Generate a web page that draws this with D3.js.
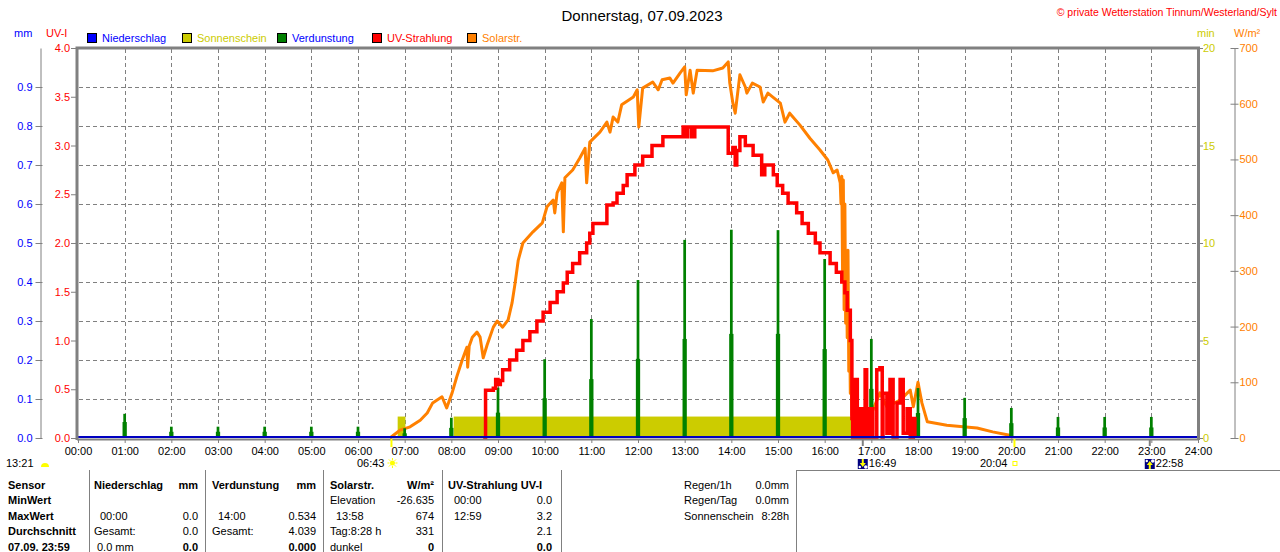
<!DOCTYPE html>
<html>
<head>
<meta charset="utf-8">
<script src="https://cdn.jsdelivr.net/npm/d3@7"></script>
<style>
body { margin: 0; background: #fff; }
svg { display: block; font-family: "Liberation Sans", Arial, sans-serif; }
</style>
</head>
<body>
<div id="chart"></div>
<script>
// ---- data ----
const hours = d3.range(0, 25);
const evapHours = d3.range(1, 24);
const evapPeak = [0.062, 0.029, 0.029, 0.029, 0.029, 0.029, 0.025, 0.052, 0.129, 0.202, 0.305, 0.405,
                  0.508, 0.534, 0.533, 0.459, 0.254, 0.128, 0.103, 0.077, 0.054, 0.054, 0.054];
const evapShoulder = [0.041, 0.016, 0.016, 0.016, 0.016, 0.016, 0.012, 0.026, 0.065, 0.102, 0.151, 0.203,
                      0.254, 0.267, 0.267, 0.228, 0.126, 0.064, 0.051, 0.038, 0.027, 0.027, 0.027];

const sunStart = ["06:51", "08:03"];
const sunEnd = ["07:01", "16:39"];
const sunMinutes = [1.1, 1.1];

const uvTimes = ["08:41", "08:44", "08:54", "08:57", "09:00", "09:03", "09:06", "09:15", "09:24", "09:32",
  "09:41", "09:50", "09:58", "10:07", "10:16", "10:24", "10:29", "10:36", "10:45", "10:54", "10:58", "11:02",
  "11:20", "11:28", "11:33", "11:41", "11:46", "11:56", "12:06", "12:18", "12:32", "12:58", "13:00", "13:04",
  "13:09", "13:13", "13:52", "13:56", "14:02", "14:05", "14:07", "14:11", "14:18", "14:28", "14:39", "14:43",
  "14:54", "14:59", "15:06", "15:13", "15:24", "15:31", "15:39", "15:48", "15:54", "16:07", "16:15", "16:22",
  "16:26", "16:29", "16:33", "16:35", "16:36", "16:39", "16:42", "16:45", "16:49", "16:52", "16:54", "16:58",
  "17:02", "17:07", "17:11", "17:14", "17:15", "17:20", "17:24", "17:28", "17:33", "17:37", "17:41", "17:46",
  "17:50", "17:54", "17:56"];
const uvValues = [0, 0.49, 0.51, 0.6, 0.55, 0.59, 0.7, 0.8, 0.9, 1.0,
  1.09, 1.2, 1.29, 1.39, 1.5, 1.59, 1.7, 1.79, 1.9, 2.0, 2.1, 2.2,
  2.39, 2.41, 2.51, 2.59, 2.7, 2.8, 2.89, 3.0, 3.09, 3.19, 3.09, 3.19,
  3.09, 3.19, 3.19, 2.92, 2.98, 2.8, 2.95, 3.09, 3.0, 2.9, 2.7, 2.8,
  2.7, 2.59, 2.51, 2.41, 2.31, 2.2, 2.1, 2.0, 1.9, 1.79, 1.7, 1.6,
  1.49, 1.31, 1.0, 0.2, 0, 0.6, 0, 0.3, 0, 0.7, 0, 0.3,
  0, 0.7, 0.72, 0, 0.46, 0.05, 0.6, 0, 0.36, 0.6, 0.05, 0.3,
  0, 0.2, 0];

const solarTimes = ["06:41", "06:54", "07:07", "07:20", "07:29", "07:36", "07:48", "07:54", "08:01", "08:07",
  "08:14", "08:20", "08:21", "08:23", "08:27", "08:33", "08:37", "08:41", "08:46", "08:54", "08:59", "09:06",
  "09:13", "09:18", "09:22", "09:26", "09:32", "09:45", "09:57", "10:03", "10:11", "10:13", "10:16", "10:22",
  "10:24", "10:26", "10:36", "10:45", "10:52", "10:54", "10:58", "11:11", "11:20", "11:24", "11:28", "11:34",
  "11:39", "11:54", "11:59", "12:01", "12:06", "12:19", "12:26", "12:31", "12:41", "12:45", "12:54", "13:00",
  "13:02", "13:07", "13:11", "13:16", "13:36", "13:49", "13:56", "13:58", "14:02", "14:05", "14:11", "14:18",
  "14:20", "14:27", "14:37", "14:41", "14:47", "15:03", "15:09", "15:15", "15:28", "15:41", "15:54", "16:04",
  "16:11", "16:16", "16:20", "16:21", "16:22", "16:23", "16:24", "16:25", "16:26", "16:27", "16:28", "16:29",
  "16:30", "16:31", "16:32", "16:33", "16:34", "16:35", "16:45", "17:02", "17:11", "17:20", "17:37", "17:50",
  "17:54", "18:00", "18:05", "18:12", "18:37", "18:58", "19:16", "19:36", "19:58", "20:02"];
const solarValues = [0, 14, 20, 32, 45, 63, 74, 54, 81, 110,
  140, 163, 127, 165, 181, 190, 181, 144, 167, 199, 210, 199,
  212, 242, 278, 319, 350, 370, 386, 415, 427, 404, 440, 458,
  370, 467, 481, 502, 520, 458, 531, 549, 567, 549, 576, 567,
  598, 612, 625, 558, 628, 639, 625, 643, 646, 637, 655, 666,
  616, 660, 619, 660, 659, 664, 675, 637, 601, 583, 652, 630,
  619, 637, 630, 603, 619, 601, 567, 583, 562, 538, 517, 499,
  476, 481, 458, 420, 470, 300, 463, 230, 420, 206, 330, 180,
  337, 120, 217, 80, 120, 41, 45, 50, 81, 56, 68, 86,
  56, 100, 63, 29, 23, 20, 18, 11, 5, 0];

const legendNames = ["Niederschlag", "Sonnenschein", "Verdunstung", "UV-Strahlung", "Solarstr."];
const legendColors = ["#0000ff", "#cccc00", "#008000", "#ff0000", "#ff8000"];
const legendTextColors = ["#0000ff", "#cccc00", "#0000ff", "#ff0000", "#ff8000"];

const sunriseTime = "06:43", sunsetTime = "20:04";
const moonsetTime = "16:49", moonriseTime = "22:58";
const moonLabel = "13:21";

const rowLabels = ["Sensor", "MinWert", "MaxWert", "Durchschnitt", "07.09. 23:59"];
const tableLeft = [
  ["Niederschlag", "", "00:00", "Gesamt:", "0.0 mm"],
  ["Verdunstung", "", "14:00", "Gesamt:", ""],
  ["Solarstr.", "Elevation", "13:58", "Tag:8:28 h", "dunkel"],
  ["UV-Strahlung UV-I", "00:00", "12:59", "", ""]
];
const tableRight = [
  ["mm", "", "0.0", "0.0", "0.0"],
  ["mm", "", "0.534", "4.039", "0.000"],
  ["W/m²", "-26.635", "674", "331", "0"],
  ["", "0.0", "3.2", "2.1", "0.0"]
];
const summaryLabels = ["Regen/1h", "Regen/Tag", "Sonnenschein"];
const summaryValues = ["0.0mm", "0.0mm", "8:28h"];

// ---- helpers ----
const W = 1280, H = 552;
const toMin = s => { const [h, m] = s.split(":").map(Number); return h * 60 + m; };
const pad = n => String(n).padStart(2, "0");
const GRAY = "#808080";

const x = d3.scaleLinear().domain([0, 1440]).range([78, 1198]);
const yMm = d3.scaleLinear().domain([0, 1]).range([438, 48]);
const yUv = d3.scaleLinear().domain([0, 4]).range([438, 48]);
const yMin = d3.scaleLinear().domain([0, 20]).range([438, 48]);
const yW = d3.scaleLinear().domain([0, 700]).range([438, 48]);

const svg = d3.select("#chart").append("svg")
    .attr("width", W)
    .attr("height", H)
    .attr("font-size", 11);

// header
svg.append("text")
    .attr("x", 642).attr("y", 21)
    .attr("text-anchor", "middle")
    .attr("font-size", 15)
    .text("Donnerstag, 07.09.2023");

svg.append("text")
    .attr("x", 1277).attr("y", 16)
    .attr("text-anchor", "end")
    .attr("font-size", 10.5)
    .attr("fill", "#ff0000")
    .text("© private Wetterstation Tinnum/Westerland/Sylt");

svg.append("text").attr("x", 14).attr("y", 37).attr("fill", "#0000ff").text("mm");
svg.append("text").attr("x", 46).attr("y", 37).attr("fill", "#ff0000").text("UV-I");
svg.append("text").attr("x", 1197).attr("y", 37).attr("fill", "#cccc00").text("min");
svg.append("text").attr("x", 1234).attr("y", 37).attr("fill", "#ff8000").text("W/m²");

// legend
const legendX = [87, 182, 277, 372, 467];
const legend = svg.append("g");
legendNames.forEach((name, i) => {
    legend.append("rect")
        .attr("x", legendX[i] + 0.5).attr("y", 33.5)
        .attr("width", 9).attr("height", 9)
        .attr("fill", legendColors[i])
        .attr("stroke", "#000");
    legend.append("text")
        .attr("x", legendX[i] + 15).attr("y", 42)
        .attr("fill", legendTextColors[i])
        .text(name);
});

// grid
const grid = svg.append("g")
    .attr("stroke", GRAY)
    .attr("stroke-dasharray", "4,3");

grid.selectAll("line.v")
    .data(d3.range(1, 24))
    .join("line")
    .attr("x1", d => Math.round(x(d * 60)) + 0.5)
    .attr("x2", d => Math.round(x(d * 60)) + 0.5)
    .attr("y1", 49).attr("y2", 437);

grid.selectAll("line.h")
    .data(d3.range(1, 10).map(d => d / 10))
    .join("line")
    .attr("x1", 79).attr("x2", 1197)
    .attr("y1", d => Math.round(yMm(d)) + 0.5)
    .attr("y2", d => Math.round(yMm(d)) + 0.5);

// sunshine
svg.append("g")
    .selectAll("rect")
    .data(sunStart.map((s, i) => ({ s: toMin(s), e: toMin(sunEnd[i]), v: sunMinutes[i] })))
    .join("rect")
    .attr("x", d => x(d.s))
    .attr("width", d => x(d.e) - x(d.s))
    .attr("y", d => yMin(d.v))
    .attr("height", d => yMin(0) - yMin(d.v))
    .attr("fill", "#cccc00");

// solar radiation
const solar = solarTimes.map((t, i) => ({ t: toMin(t), v: solarValues[i] }));
svg.append("path")
    .datum(solar)
    .attr("fill", "none")
    .attr("stroke", "#ff8000")
    .attr("stroke-width", 3)
    .attr("stroke-linejoin", "round")
    .attr("d", d3.line().x(d => x(d.t)).y(d => yW(d.v)));

// evaporation
const evap = evapHours.map((h, i) => ({ t: h * 60, peak: evapPeak[i], sh: evapShoulder[i] }));
const evapG = svg.append("g").attr("fill", "#008000");
evapG.selectAll("rect.sh")
    .data(evap)
    .join("rect")
    .attr("x", d => x(d.t - 2.75))
    .attr("width", x(5.5) - x(0))
    .attr("y", d => yMm(d.sh))
    .attr("height", d => yMm(0) - yMm(d.sh));
evapG.selectAll("rect.pk")
    .data(evap)
    .join("rect")
    .attr("x", d => x(d.t - 1.75))
    .attr("width", x(3.5) - x(0))
    .attr("y", d => yMm(d.peak))
    .attr("height", d => yMm(0) - yMm(d.peak));

// UV
const uv = uvTimes.map((t, i) => ({ t: toMin(t), v: uvValues[i] }));
svg.append("path")
    .datum(uv)
    .attr("fill", "none")
    .attr("stroke", "#ff0000")
    .attr("stroke-width", 3.5)
    .attr("d", d3.line().curve(d3.curveStepAfter).x(d => x(d.t)).y(d => yUv(d.v)));

// x axis baseline and precipitation (0 all day)
svg.append("line")
    .attr("x1", 77).attr("x2", 1199)
    .attr("y1", 439.5).attr("y2", 439.5)
    .attr("stroke", GRAY).attr("stroke-width", 2);
svg.append("line")
    .attr("x1", 78).attr("x2", 1198)
    .attr("y1", yMm(0) - 1).attr("y2", yMm(0) - 1)
    .attr("stroke", "#0000c0").attr("stroke-width", 2);

// frame
svg.append("path")
    .attr("d", "M77,440V48H1198.5V440")
    .attr("fill", "none")
    .attr("stroke", GRAY)
    .attr("stroke-width", 3);

// axes
function styleAxis(g, color) {
    g.attr("font-size", 11).attr("font-family", null);
    g.selectAll(".tick line").attr("stroke", GRAY);
    g.selectAll(".domain").attr("stroke", GRAY);
    g.selectAll("text").attr("fill", color);
}

svg.append("g")
    .attr("transform", "translate(40.5,0)")
    .call(d3.axisLeft(yMm).tickValues(d3.range(0, 10).map(d => d / 10))
        .tickFormat(d3.format(".1f")).tickSize(5).tickSizeOuter(0))
    .call(g => styleAxis(g, "#0000ff"))
    .call(g => g.selectAll(".tick line").attr("x2", -5).attr("x1", 2));

svg.append("g")
    .attr("transform", "translate(76,0)")
    .call(d3.axisLeft(yUv).tickValues(d3.range(0, 9).map(d => d / 2))
        .tickFormat(d3.format(".1f")).tickSize(5))
    .call(g => g.select(".domain").remove())
    .call(g => styleAxis(g, "#ff0000"))
    .call(g => g.selectAll("text").attr("x", -6));

svg.append("g")
    .attr("transform", "translate(1199,0)")
    .call(d3.axisRight(yMin).tickValues([0, 5, 10, 15, 20]).tickSize(4))
    .call(g => g.select(".domain").remove())
    .call(g => styleAxis(g, "#cccc00"))
    .call(g => g.selectAll("text").attr("x", 4));

svg.append("g")
    .attr("transform", "translate(1234.5,0)")
    .call(d3.axisRight(yW).tickValues(d3.range(0, 701, 100)).tickSize(4).tickSizeOuter(0))
    .call(g => styleAxis(g, "#ff8000"))
    .call(g => g.selectAll(".tick line").attr("x1", -4))
    .call(g => g.selectAll("text").attr("x", 5));

svg.append("g")
    .attr("transform", "translate(0,439)")
    .call(d3.axisBottom(x).tickValues(hours.map(h => h * 60))
        .tickFormat(m => pad(m / 60) + ":00").tickSize(4))
    .call(g => g.select(".domain").remove())
    .call(g => styleAxis(g, "#000"))
    .call(g => g.selectAll("text").attr("y", 8));

// sun / moon events under the axis
const events = svg.append("g");
const tSunrise = x(toMin(sunriseTime)), tSunset = x(toMin(sunsetTime));
const tMoonset = x(toMin(moonsetTime)), tMoonrise = x(toMin(moonriseTime));

[tSunrise, tSunset].forEach(px => events.append("line")
    .attr("x1", px).attr("x2", px).attr("y1", 439).attr("y2", 447)
    .attr("stroke", "#ffff00").attr("stroke-width", 2));
[tMoonset, tMoonrise].forEach(px => events.append("line")
    .attr("x1", px).attr("x2", px).attr("y1", 439).attr("y2", 446)
    .attr("stroke", GRAY).attr("stroke-width", 2));

// moon phase marker at left
events.append("text").attr("x", 6).attr("y", 467).text(moonLabel);
events.append("path")
    .attr("d", "M41,467A4,4 0 0 1 49,467Z")
    .attr("fill", "#ffff00");

// sunrise
events.append("text").attr("x", tSunrise - 7).attr("y", 467).attr("text-anchor", "end").text(sunriseTime);
events.append("circle").attr("cx", tSunrise + 1).attr("cy", 463).attr("r", 2.5).attr("fill", "#ffff00");
d3.range(8).forEach(k => {
    const a = k * Math.PI / 4;
    events.append("line")
        .attr("x1", tSunrise + 1 + Math.cos(a) * 3).attr("y1", 463 + Math.sin(a) * 3)
        .attr("x2", tSunrise + 1 + Math.cos(a) * 5).attr("y2", 463 + Math.sin(a) * 5)
        .attr("stroke", "#ffff00").attr("stroke-width", 1);
});

// sunset
events.append("text").attr("x", tSunset - 7).attr("y", 467).attr("text-anchor", "end").text(sunsetTime);
events.append("rect")
    .attr("x", tSunset - 1.5).attr("y", 461.5).attr("width", 4).attr("height", 4)
    .attr("fill", "none").attr("stroke", "#ffff00");

// moonset / moonrise icons
function moonIcon(px, up) {
    const g = events.append("g").attr("transform", `translate(${px - 5},459)`);
    g.append("rect").attr("width", 10).attr("height", 10).attr("fill", "#000080");
    g.append("circle").attr("cx", 8).attr("cy", up ? 2 : 8).attr("r", 1.8).attr("fill", "#fff");
    g.append("circle").attr("cx", 2).attr("cy", up ? 2 : 8).attr("r", 1.2).attr("fill", "#fff");
    g.append("path")
        .attr("d", up ? "M5,2L8,6H6V10H4V6H2Z" : "M5,8L8,4H6V0H4V4H2Z")
        .attr("fill", "#ffff00");
}
moonIcon(tMoonset, false);
moonIcon(tMoonrise, true);
events.append("text").attr("x", tMoonset + 6).attr("y", 467).text(moonsetTime);
events.append("text").attr("x", tMoonrise + 6).attr("y", 467).text(moonriseTime);

// ---- table ----
const table = svg.append("g");
const rowY = d3.range(5).map(i => 488.5 + i * 15.6);
const sepX = [89, 205, 323, 442, 561, 796];

sepX.forEach(sx => table.append("line")
    .attr("x1", sx + 0.5).attr("x2", sx + 0.5).attr("y1", 470).attr("y2", H)
    .attr("stroke", GRAY));
table.append("line")
    .attr("x1", 796).attr("x2", W).attr("y1", 470.5).attr("y2", 470.5)
    .attr("stroke", GRAY);

rowLabels.forEach((t, i) => table.append("text")
    .attr("x", 8).attr("y", rowY[i])
    .attr("font-weight", "bold")
    .text(t));

const colLeftX = [94, 212, 330, 448];
const colRightX = [198, 316, 434, 552];
tableLeft.forEach((col, c) => {
    col.forEach((t, r) => {
        if (!t) return;
        const indent = /^\d\d:\d\d$/.test(t) ? 6 : (r === 4 && c === 0 ? 3 : 0);
        table.append("text")
            .attr("x", colLeftX[c] + indent).attr("y", rowY[r])
            .attr("font-weight", r === 0 ? "bold" : "normal")
            .text(t);
    });
    tableRight[c].forEach((t, r) => {
        if (!t) return;
        table.append("text")
            .attr("x", colRightX[c]).attr("y", rowY[r])
            .attr("text-anchor", "end")
            .attr("font-weight", r === 0 || r === 4 ? "bold" : "normal")
            .text(t);
    });
});

summaryLabels.forEach((t, i) => {
    table.append("text").attr("x", 684).attr("y", rowY[i]).text(t);
    table.append("text").attr("x", 789).attr("y", rowY[i]).attr("text-anchor", "end").text(summaryValues[i]);
});
</script>
</body>
</html>
